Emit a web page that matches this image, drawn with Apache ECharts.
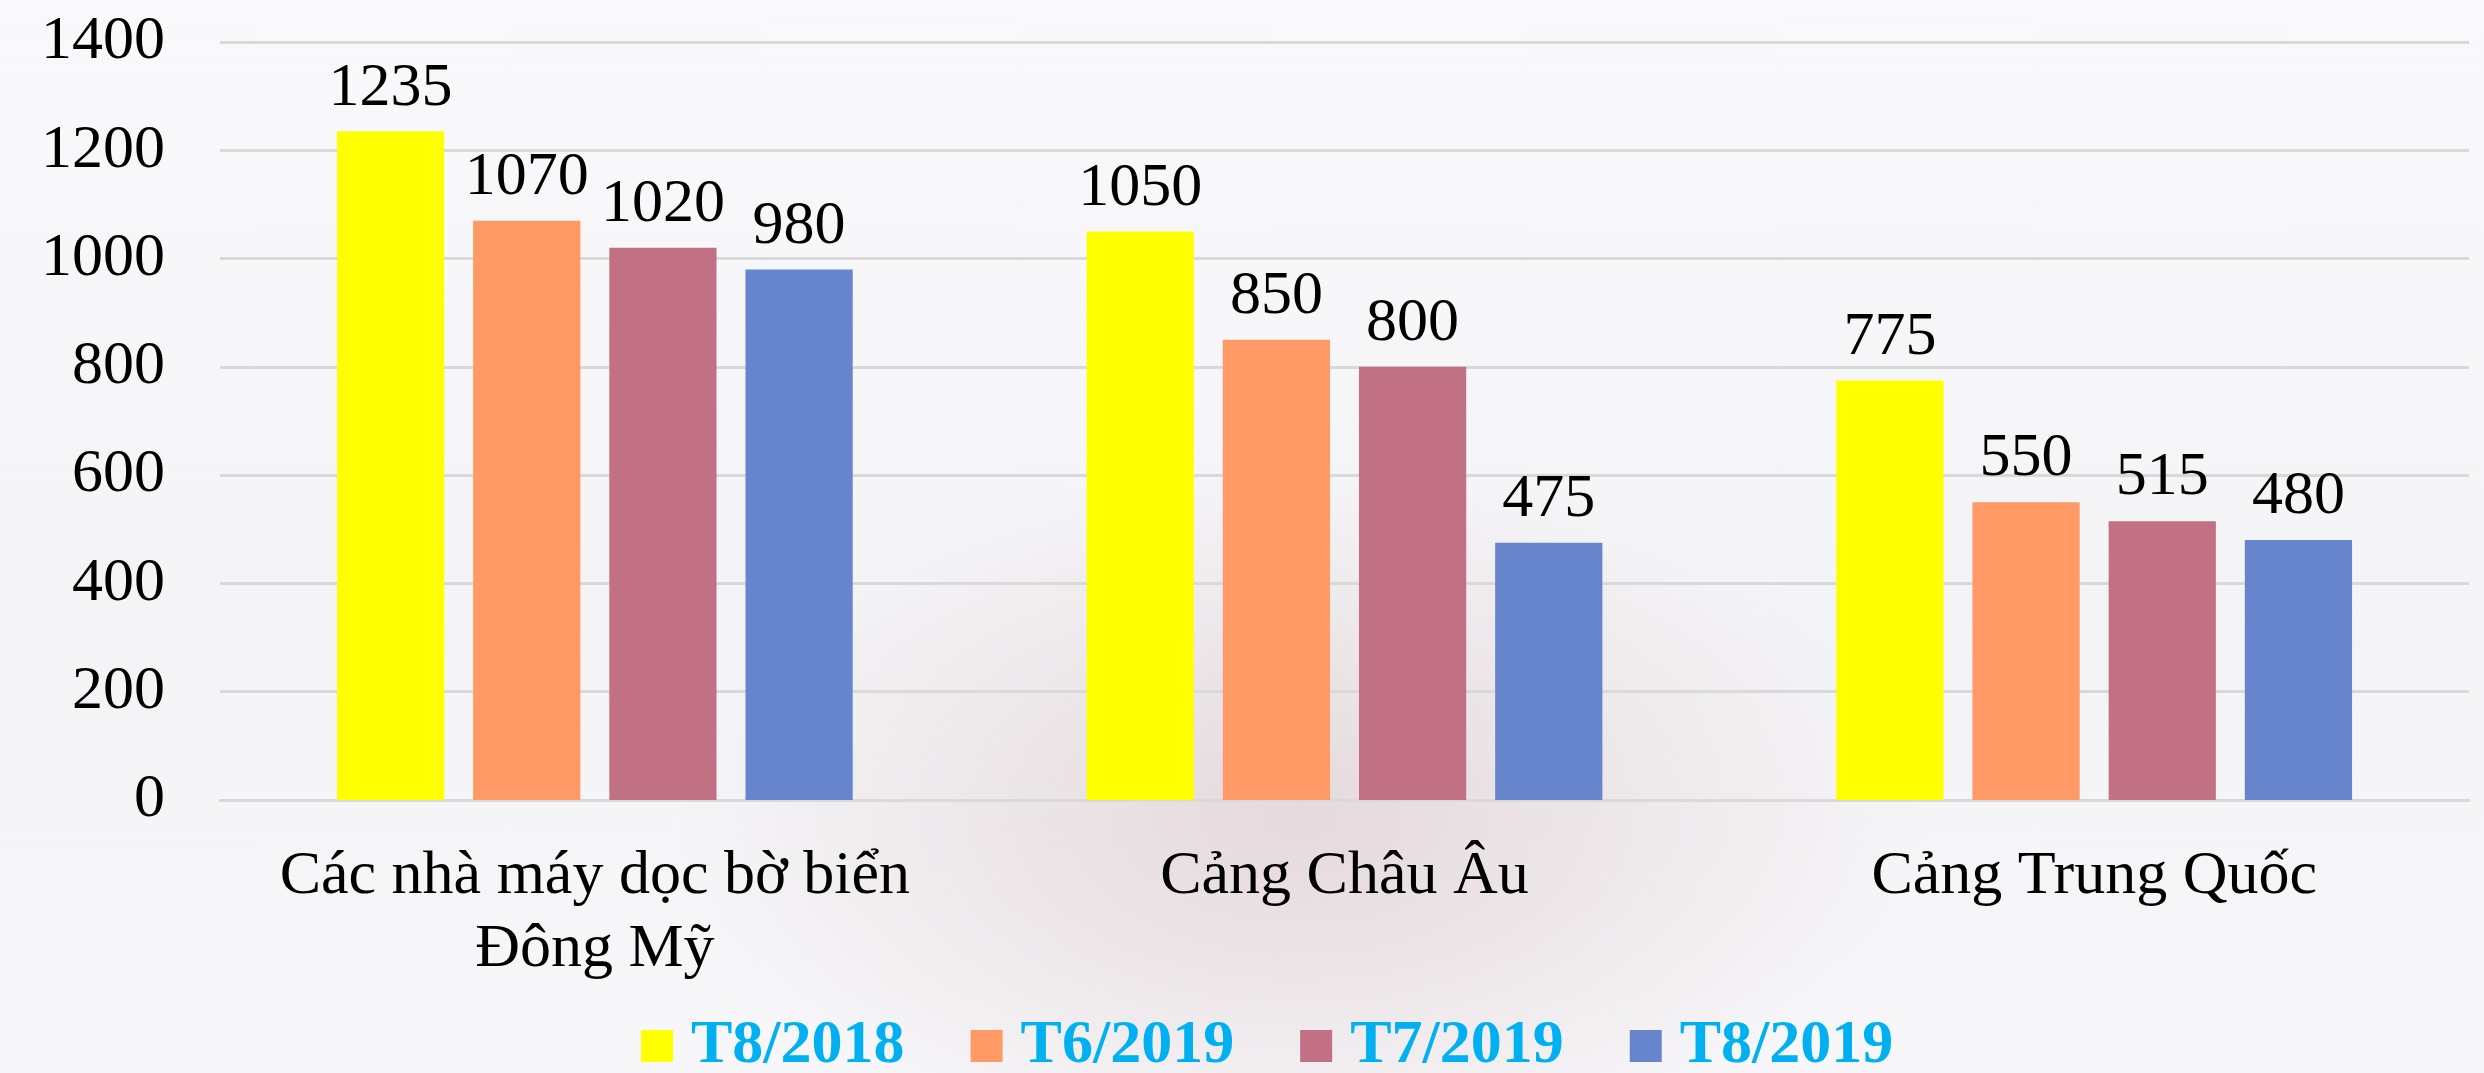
<!DOCTYPE html>
<html><head><meta charset="utf-8">
<script src="https://cdn.jsdelivr.net/npm/echarts@6/dist/echarts.min.js"></script>
<style>
html,body{margin:0;padding:0;width:2484px;height:1073px;overflow:hidden;}
body{background:
 radial-gradient(ellipse 900px 520px at 1300px 820px, rgba(226,212,216,0.85), rgba(240,236,238,0) 70%),
 linear-gradient(180deg,#f9f9fb 0%,#f4f4f6 60%,#f7f7f9 100%);}
#c{width:2484px;height:1073px;}
</style></head><body><div id="c"></div>
<script>
const categories = ['Các nhà máy dọc bờ biển\nĐông Mỹ', 'Cảng Châu Âu', 'Cảng Trung Quốc'];
const seriesNames = ['T8/2018', 'T6/2019', 'T7/2019', 'T8/2019'];
const t8_2018 = [1235, 1050, 775];
const t6_2019 = [1070, 850, 550];
const t7_2019 = [1020, 800, 515];
const t8_2019 = [980, 475, 480];
const colors = ['#FFFF00', '#FF9966', '#C27083', '#6785CD'];
const yTicks = {min: 0, max: 1400, interval: 200};

const font = 'Liberation Serif';
const allData = [t8_2018, t6_2019, t7_2019, t8_2019];
const chart = echarts.init(document.getElementById('c'));
chart.setOption({
  backgroundColor: 'transparent',
  animation: false,
  color: colors,
  grid: {left: 220, right: 15, top: 42, bottom: 273, containLabel: false},
  legend: {
    left: 641, top: 1015, padding: 0,
    itemWidth: 32, itemHeight: 32, itemGap: 66, icon: 'rect',
    data: seriesNames,
    textStyle: {fontFamily: font, fontWeight: 'bold', fontSize: 62, color: '#00B0F0', padding: [0,0,0,13], lineHeight: 62}
  },
  xAxis: {
    type: 'category', data: categories,
    axisLine: {lineStyle: {color: '#d9d9d9', width: 3}},
    axisTick: {show: false},
    axisLabel: {fontFamily: font, fontSize: 62, color: '#000', margin: 40, lineHeight: 73, interval: 0}
  },
  yAxis: {
    type: 'value', min: yTicks.min, max: yTicks.max, interval: yTicks.interval,
    axisLine: {show: false}, axisTick: {show: false},
    splitLine: {lineStyle: {color: '#d9d9d9', width: 3}},
    axisLabel: {fontFamily: font, fontSize: 62, color: '#000', margin: 55, formatter: v => String(v)}
  },
  series: seriesNames.map((n, i) => ({
    name: n, type: 'bar', data: allData[i],
    barGap: '27%', barCategoryGap: '31.2%',
    itemStyle: {color: colors[i]},
    label: {show: true, position: 'top', distance: 12, fontFamily: font, fontSize: 62, color: '#000'}
  }))
});
</script></body></html>
